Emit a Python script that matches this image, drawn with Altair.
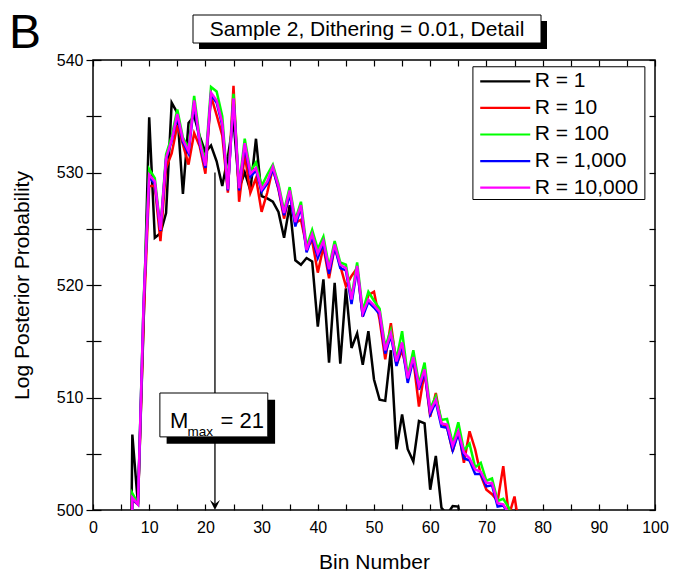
import altair as alt
import pandas as pd

# ---------------- data ----------------
first_bin = 6
black = [460, 506.7, 500.5, 516.5, 534.9, 524.2, 524.6, 526.4, 536.2, 535.3,
         528.1, 534.4, 535.0, 533.2, 531.8, 532.4, 531.0, 528.8, 531.4, 534.6,
         528.6, 530.0, 528.4, 533.0, 527.9, 527.7, 527.4, 526.5, 524.2, 527.1,
         522.2, 521.8, 522.4, 522.1, 516.3, 520.5, 513.1, 520.2, 513.0, 519.7,
         514.4, 515.7, 512.9, 515.9, 511.6, 509.8, 509.7, 514.2, 505.4, 508.5,
         505.4, 504.3, 507.9, 507.7, 501.8, 504.8, 500.2, 499.6, 500.35, 500.3,
         497.0]
red = [460, 500.9, 500.5, 516.9, 528.8, 528.8, 523.9, 530.4, 531.7, 534.2,
       532.5, 530.7, 533.5, 532.3, 529.9, 536.8, 535.1, 533.3, 528.2, 537.7,
       527.4, 531.6, 528.2, 529.5, 526.5, 528.2, 530.4, 528.5, 525.9, 528.2,
       525.5, 525.8, 523.4, 523.9, 521.1, 523.4, 520.6, 523.4, 521.7, 519.9,
       520.8, 521.5, 517.2, 519.1, 519.4, 516.9, 513.4, 516.6, 512.9, 514.2,
       512.0, 513.4, 509.2, 512.3, 508.3, 510.4, 507.7, 507.4, 505.2, 507.1,
       504.2, 507.0, 505.4, 503.1, 501.8, 501.4, 500.8, 503.9, 499.5, 501.2,
       498.0]
green = [460, 501.5, 500.6, 518.5, 530.3, 529.5, 525.0, 531.6, 533.2, 535.6,
         533.1, 532.2, 536.8, 533.0, 530.9, 537.6, 537.2, 535.0, 528.5, 537.0,
         528.8, 533.0, 530.1, 530.9, 528.8, 529.8, 530.7, 529.0, 526.6, 528.7,
         525.8, 527.4, 523.4, 524.9, 523.2, 524.3, 521.6, 523.9, 522.0, 521.8,
         518.9, 522.0, 517.7, 519.4, 518.6, 517.9, 514.5, 516.0, 513.4, 515.9,
         511.9, 514.2, 511.2, 513.1, 509.0, 510.1, 508.0, 508.1, 505.9, 507.8,
         505.3, 505.9, 503.8, 504.2, 502.6, 502.8, 500.8, 501.0, 500.2, 498.5]
blue = [460, 501.0, 500.5, 518.2, 529.6, 529.0, 524.8, 531.2, 532.8, 535.0,
        532.7, 531.7, 536.2, 532.5, 530.4, 536.9, 536.2, 534.2, 528.4, 536.5,
        528.4, 532.4, 529.6, 530.2, 528.3, 529.0, 530.3, 528.6, 526.2, 528.1,
        525.2, 526.9, 522.9, 524.3, 522.4, 523.7, 521.0, 523.4, 521.5, 521.3,
        518.3, 521.5, 517.2, 518.5, 518.0, 517.4, 513.9, 515.5, 512.8, 514.7,
        511.3, 513.4, 510.7, 512.3, 508.5, 509.6, 507.4, 507.3, 505.3, 506.8,
        504.6, 504.4, 503.2, 503.2, 502.1, 502.2, 500.3, 500.4, 499.6, 498.0]
magenta = [460, 501.1, 500.5, 518.3, 529.8, 529.2, 524.9, 531.3, 532.9, 535.2,
           532.9, 531.9, 536.4, 532.7, 530.6, 537.1, 536.4, 534.4, 528.5, 536.6,
           528.6, 532.6, 529.9, 530.4, 528.5, 529.2, 530.5, 528.8, 526.4, 528.4,
           525.6, 527.1, 523.1, 524.5, 522.8, 523.9, 521.4, 523.6, 521.8, 521.5,
           518.7, 521.7, 517.5, 518.7, 518.2, 517.6, 514.2, 515.7, 513.2, 514.9,
           511.7, 513.6, 511.0, 512.5, 508.8, 509.8, 507.7, 507.6, 505.7, 507.0,
           505.1, 504.6, 503.6, 503.4, 502.4, 502.4, 500.6, 500.5, 499.7, 498.0]

series_names = ["R = 1", "R = 10", "R = 100", "R = 1,000", "R = 10,000"]
series_colors = ["#000000", "#ff0000", "#00ff00", "#0000ff", "#ff00ff"]
series_values = [black, red, green, blue, magenta]

x_tick_values = list(range(0, 101, 5))
y_tick_values = list(range(500, 541, 5))

title_text = "Sample 2, Dithering = 0.01, Detail"
panel_letter = "B"
m_max_value = 21
x_title = "Bin Number"
y_title = "Log Posterior Probability"

# ---------------- styling / layout constants ----------------
FONT = "Liberation Sans"
W, H = 562, 450
LINE_W = 2.5
xs = alt.Scale(domain=[0, 100], nice=False, zero=False)
ys = alt.Scale(domain=[500, 540], nice=False, zero=False)
label_expr = "datum.value % 10 == 0 ? datum.label : ''"

# ---------------- series lines ----------------
layers = []
for i, (name, col, vals) in enumerate(zip(series_names, series_colors, series_values)):
    df = pd.DataFrame({"bin": list(range(first_bin, first_bin + len(vals))),
                       "lp": vals, "series": name})
    if i == 0:
        xax = alt.Axis(orient="bottom", values=x_tick_values, labelExpr=label_expr,
                       offset=-6, tickSize=6, tickWidth=1.2, tickColor="black",
                       domain=False, grid=False, labelFlush=False, labelOverlap=False,
                       labelPadding=9, labelFont=FONT, labelFontSize=16, labelColor="black",
                       title=x_title, titleFont=FONT, titleFontSize=21,
                       titleFontWeight="normal", titleColor="black", titlePadding=16)
        yax = alt.Axis(orient="left", values=y_tick_values, labelExpr=label_expr,
                       tickSize=7, tickWidth=1.2, tickColor="black",
                       domain=False, grid=False, labelFlush=False, labelOverlap=False,
                       labelPadding=3, labelFont=FONT, labelFontSize=16, labelColor="black",
                       title=y_title, titleFont=FONT, titleFontSize=21,
                       titleFontWeight="normal", titleColor="black", titlePadding=24)
        enc_x = alt.X("bin:Q", scale=xs, axis=xax)
        enc_y = alt.Y("lp:Q", scale=ys, axis=yax)
    else:
        enc_x = alt.X("bin:Q", scale=xs, axis=None)
        enc_y = alt.Y("lp:Q", scale=ys, axis=None)
    layers.append(alt.Chart(df).mark_line(color=col, strokeWidth=LINE_W, clip=True)
                  .encode(x=enc_x, y=enc_y))

# ---------------- inward ticks on the frame ----------------
dummy = pd.DataFrame({"bin": [0], "lp": [500]})
ticks_a = alt.Chart(dummy).mark_point(opacity=0).encode(
    x=alt.X("bin:Q", scale=xs, axis=alt.Axis(orient="top", values=x_tick_values, labels=False,
            domain=False, grid=False, offset=-6, tickSize=6, tickWidth=1.2,
            tickColor="black", title=None)),
    y=alt.Y("lp:Q", scale=ys, axis=alt.Axis(orient="left", values=y_tick_values, labels=False,
            domain=False, grid=False, offset=-8, tickSize=8, tickWidth=1.2,
            tickColor="black", title=None)))
ticks_b = alt.Chart(dummy).mark_point(opacity=0).encode(
    x=alt.X("bin:Q", scale=xs, axis=None),
    y=alt.Y("lp:Q", scale=ys, axis=alt.Axis(orient="right", values=y_tick_values, labels=False,
            domain=False, grid=False, offset=-6, tickSize=6, tickWidth=1.2,
            tickColor="black", title=None)))

# ---------------- M_max annotation (data coordinates) ----------------
arrow_x, arrow_top, arrow_tip = 21.7, 530, 500
arrow_df = pd.DataFrame({"x": [arrow_x], "y": [arrow_top], "y2": [arrow_tip + 0.5]})
arrow_line = alt.Chart(arrow_df).mark_rule(color="black", strokeWidth=1.3).encode(
    x=alt.X("x:Q", scale=xs, axis=None), y=alt.Y("y:Q", scale=ys, axis=None), y2="y2:Q")
head_df = pd.DataFrame({"x": [arrow_x], "y": [arrow_tip]})
arrow_head = alt.Chart(head_df).mark_point(
    shape="M0,0L-0.5,-1L0,-0.6L0.5,-1Z", size=400, filled=True, color="black", opacity=1
).encode(x=alt.X("x:Q", scale=xs, axis=None), y=alt.Y("y:Q", scale=ys, axis=None))

box_df = pd.DataFrame({"x": [11.9], "x2": [31.1], "y": [510.4], "y2": [506.5]})
shadow_df = pd.DataFrame({"x": [13.1], "x2": [32.4], "y": [509.8], "y2": [505.9]})
def rect_layer(df, fill, stroke_w):
    return alt.Chart(df).mark_rect(fill=fill, stroke="black", strokeWidth=stroke_w).encode(
        x=alt.X("x:Q", scale=xs, axis=None), x2="x2:Q",
        y=alt.Y("y:Q", scale=ys, axis=None), y2="y2:Q")
mbox_shadow = rect_layer(shadow_df, "black", 0)
mbox = rect_layer(box_df, "white", 1)

mtext_df = pd.DataFrame({
    "x": [13.7, 16.8, 22.7],
    "y": [507.3, 506.6, 507.3],
    "t": ["M", "max", f"= {m_max_value}"],
    "fs": [22, 13.5, 22],
})
mtext = alt.Chart(mtext_df).mark_text(align="left", baseline="alphabetic", font=FONT,
                                      color="black").encode(
    x=alt.X("x:Q", scale=xs, axis=None), y=alt.Y("y:Q", scale=ys, axis=None),
    text="t:N", size=alt.Size("fs:Q", scale=None, legend=None))

# ---------------- legend (data coordinates) ----------------
leg_box_df = pd.DataFrame({"x": [67.6], "x2": [98.2], "y": [539.4], "y2": [527.6]})
legend_box = rect_layer(leg_box_df, "white", 1)
leg_y0, leg_dy = 538.1, 2.36
leg_df = pd.DataFrame({
    "x": [68.9] * 5, "x2": [77.8] * 5, "xt": [78.6] * 5,
    "y": [leg_y0 - i * leg_dy for i in range(5)],
    "name": series_names, "col": series_colors,
})
legend_lines = alt.Chart(leg_df).mark_rule(strokeWidth=2.2).encode(
    x=alt.X("x:Q", scale=xs, axis=None), x2="x2:Q",
    y=alt.Y("y:Q", scale=ys, axis=None),
    color=alt.Color("col:N", scale=None, legend=None))
legend_text = alt.Chart(leg_df).mark_text(align="left", baseline="middle", font=FONT,
                                          fontSize=21, color="black").encode(
    x=alt.X("xt:Q", scale=xs, axis=None), y=alt.Y("y:Q", scale=ys, axis=None), text="name:N")

# ---------------- boxed title and panel letter (pixels, outside plot) ----------------
one = pd.DataFrame({"t": [title_text]})
title_shadow = alt.Chart(one).mark_rect(fill="black").encode(
    x=alt.value(106), x2=alt.value(454), y=alt.value(-39), y2=alt.value(-11))
title_box = alt.Chart(one).mark_rect(fill="white", stroke="black", strokeWidth=1).encode(
    x=alt.value(100), x2=alt.value(448), y=alt.value(-45), y2=alt.value(-17))
title_txt = alt.Chart(one).mark_text(align="center", baseline="middle", font=FONT,
                                     fontSize=21, color="black").encode(
    x=alt.value(274), y=alt.value(-30), text="t:N")
letter = alt.Chart(pd.DataFrame({"t": [panel_letter]})).mark_text(
    align="left", baseline="alphabetic", font=FONT, fontSize=48, color="black").encode(
    x=alt.value(-84), y=alt.value(-12), text="t:N")

chart = alt.layer(
    *layers, ticks_a, ticks_b,
    arrow_line, arrow_head, mbox_shadow, mbox, mtext,
    legend_box, legend_lines, legend_text,
    title_shadow, title_box, title_txt, letter,
).resolve_axis(x="independent", y="independent").properties(
    width=W, height=H,
    padding={"left": 93, "top": 60, "right": 34, "bottom": 74},
    autosize=alt.AutoSizeParams(type="none"),
    background="white",
).configure_view(stroke="black", strokeWidth=1.5)

chart.save("out.html", embed_options={"renderer": "svg", "actions": False})
